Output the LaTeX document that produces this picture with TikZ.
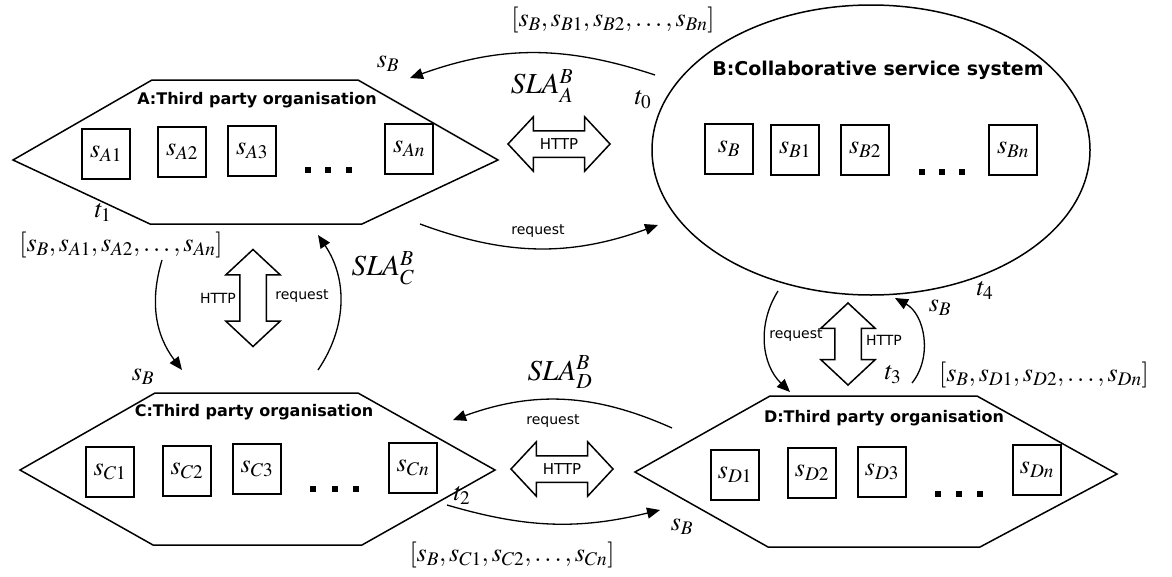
\documentclass[tikz,border=0pt]{standalone}
\usepackage{mathptmx}
\usepackage{fontspec}
\setmainfont{Liberation Serif}
\setsansfont{DejaVu Sans}
\usetikzlibrary{arrows.meta,shapes.arrows,shapes.geometric}

\begin{document}
\begin{tikzpicture}[
            x=1pt, y=-1pt,
            org/.style={draw,line width=1.5pt,line join=miter},
            svc/.style={draw,line width=1.4pt,minimum width=48pt,minimum height=50pt,inner sep=0pt,font=\fontsize{26}{28}\selectfont},
            ttl/.style={font=\sffamily\bfseries\fontsize{16}{18}\selectfont},
            lbl/.style={font=\fontsize{26}{28}\selectfont},
            sla/.style={font=\fontsize{29}{31}\selectfont},
            msg/.style={font=\sffamily\fontsize{14}{16}\selectfont},
            flow/.style={draw,-{Triangle[length=13pt,width=11pt]},line width=1.3pt},
            http/.style={double arrow,draw,line width=1.5pt,minimum height=102pt,text height=11pt,text depth=0pt,
                inner ysep=7pt,inner xsep=2pt,double arrow head extend=14pt,double arrow tip angle=94,
                font=\sffamily\fontsize{15}{17}\selectfont},
            pt/.style={fill,minimum size=6pt,inner sep=0pt}
        ]

        \useasboundingbox (0,0) rectangle (1172,576);

        % organisations
        \draw[org] (13,160) -- (152,80) -- (358,80) -- (498,160) -- (362,224) -- (150,224) -- cycle;
        \draw[org] (20,470) -- (155,393) -- (358,393) -- (495,470) -- (362,545) -- (153,545) -- cycle;
        \draw[org] (635,472) -- (770,396) -- (977,396) -- (1117,474) -- (980,547) -- (768,547) -- cycle;
        \node[draw,ellipse,line width=1.5pt,minimum width=438pt,minimum height=290pt] (B) at (871,150) {};

        \node[ttl] (tA) at (257,100) {A:Third party organisation};
        \node[ttl,font=\sffamily\bfseries\fontsize{19}{21}\selectfont] (tB) at (878,70) {B:Collaborative service system};
        \node[ttl] (tC) at (254,412) {C:Third party organisation};
        \node[ttl] (tD) at (884,418) {D:Third party organisation};

        % services
        \node[svc] (a1) at (106,154) {$s_{A1}$};
        \node[svc] (a2) at (182,152) {$s_{A2}$};
        \node[svc] (a3) at (252,151) {$s_{A3}$};
        \node[svc] (an) at (409,149) {$s_{An}$};

        \node[svc] (b0) at (729,149) {$s_{B}$};
        \node[svc] (b1) at (795,150) {$s_{B1}$};
        \node[svc] (b2) at (865,150) {$s_{B2}$};
        \node[svc] (bn) at (1013,150) {$s_{Bn}$};

        \node[svc] (c1) at (110,472) {$s_{C1}$};
        \node[svc] (c2) at (187,471) {$s_{C2}$};
        \node[svc] (c3) at (257,469) {$s_{C3}$};
        \node[svc] (cn) at (413,468) {$s_{Cn}$};

        \node[svc] (d1) at (735,475) {$s_{D1}$};
        \node[svc] (d2) at (812,473) {$s_{D2}$};
        \node[svc] (d3) at (882,472) {$s_{D3}$};
        \node[svc] (dn) at (1037,470) {$s_{Dn}$};

        \foreach \px/\py in {308/170,328/170,349/170, 922/172,942/172,962/172,
                             313/489,335/489,356/489, 938/494,959/494,980/494}
            \node[pt] at (\px,\py) {};

        % HTTP links
        \node[http] (hAB) at (559,144) {HTTP};
        \node[http] (hCD) at (562,469) {HTTP};
        \node[http,rotate=90,minimum height=97pt] (hAC) at (253,298) {};
        \node[http,rotate=90,minimum height=82pt] (hBD) at (848,344) {};

        % message ends
        \coordinate (pBA) at (655,75);
        \coordinate (qBA) at (410,78);
        \coordinate (pAB) at (420,224);
        \coordinate (qAB) at (658,225);
        \coordinate (pAC) at (162,260);
        \coordinate (qAC) at (182,370);
        \coordinate (pCA) at (318,370);
        \coordinate (qCA) at (318,235);
        \coordinate (pDC) at (672,428);
        \coordinate (qDC) at (453,420);
        \coordinate (pCD) at (447,505);
        \coordinate (qCD) at (660,510);
        \coordinate (pBD) at (778,291);
        \coordinate (qBD) at (790,392);
        \coordinate (pDB) at (912,383);
        \coordinate (qDB) at (895,298);

        \path
            (pBA) edge[flow,bend right=19] (qBA)
            (pAB) edge[flow,bend right=20] (qAB)
            (pAC) edge[flow,bend right=27] (qAC)
            (pCA) edge[flow,bend right=34] (qCA)
            (pDC) edge[flow,bend right=22] (qDC)
            (pCD) edge[flow,bend right=15] (qCD)
            (pBD) edge[flow,bend right=39] (qBD)
            (pDB) edge[flow,bend right=50] (qDB)
        ;

        % labels
        \node[lbl] (sbA) at (388,64) {$s_B$};
        \node[lbl] (lstB) at (613,20) {$[s_B, s_{B1}, s_{B2},\ldots, s_{Bn}]$};
        \node[sla] (slaA) at (542,86) {$SLA_A^B$};
        \node[lbl] (t0) at (643,100) {$t_0$};
        \node[msg] (rqAB) at (538,231) {request};

        \node[lbl] (t1) at (103,212) {$t_1$};
        \node[lbl] (lstA) at (121,245) {$[s_B, s_{A1}, s_{A2},\ldots, s_{An}]$};
        \node[lbl] (sbC) at (143,377) {$s_B$};
        \node[msg] (htAC) at (218,298) {HTTP};
        \node[msg] (rqCA) at (302,296) {request};
        \node[sla] (slaC) at (383,268) {$SLA_C^B$};

        \node[msg] (rqBD) at (796,335) {request};
        \node[msg] (htBD) at (884,340) {HTTP};
        \node[lbl] (sbB) at (940,308) {$s_B$};
        \node[lbl] (t4) at (985,290) {$t_4$};
        \node[lbl] (t3) at (893,375) {$t_3$};
        \node[lbl] (lstD) at (1044,375) {$[s_B, s_{D1}, s_{D2},\ldots, s_{Dn}]$};

        \node[sla] (slaD) at (560,372) {$SLA_D^B$};
        \node[msg] (rqDC) at (553,421) {request};
        \node[lbl] (t2) at (462,495) {$t_2$};
        \node[lbl] (sbD) at (682,527) {$s_B$};
        \node[lbl] (lstC) at (512,555) {$[s_B, s_{C1}, s_{C2},\ldots, s_{Cn}]$};

\end{tikzpicture}
\end{document}
